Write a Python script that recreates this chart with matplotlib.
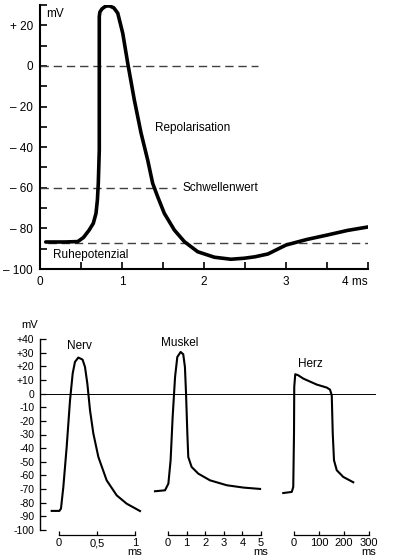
import numpy as np
import matplotlib
matplotlib.use("Agg")
import matplotlib.pyplot as plt
from matplotlib.ticker import FixedLocator, MultipleLocator

plt.rcParams["font.family"] = ["Liberation Sans", "DejaVu Sans"]

# %%
# Data
# ---------------------------

# upper panel: nerve action potential (ms, mV)
AP_T = [0.07, 0.30, 0.46, 0.53, 0.60, 0.65, 0.683, 0.70, 0.711, 0.723,
        0.723, 0.73, 0.756, 0.80, 0.845, 0.90, 0.948, 1.009, 1.07, 1.15,
        1.232, 1.313, 1.374, 1.435, 1.516, 1.638, 1.76, 1.923, 2.126, 2.329,
        2.49, 2.62, 2.78, 3.00, 3.25, 3.50, 3.75, 4.00]
AP_V = [-86.7, -86.7, -86.5, -84.5, -80.8, -77.5, -72.6, -66.0, -57.8, -41.4,
        24.3, 26.5, 28.1, 29.4, 29.6, 28.6, 26.0, 16.1, 1.3, -16.7,
        -33.0, -46.3, -57.8, -64.4, -72.6, -80.8, -86.5, -91.5, -94.2, -95.2,
        -94.7, -94.0, -92.6, -88.2, -85.5, -83.3, -81.0, -79.3]

ZERO_END = 2.66        # ms, end of the dashed 0 mV line
THRESH_V = -60.0
THRESH_END = 1.66
REST_V = -87.2

# lower panel: three action potentials, each on its own time scale
NERV_T = [-0.096, 0.005, 0.026, 0.057, 0.101, 0.145, 0.18, 0.21, 0.254, 0.31,
          0.342, 0.373, 0.408, 0.452, 0.518, 0.627, 0.759, 0.89, 1.066]
NERV_V = [-86.0, -86.0, -84.3, -68.5, -39.1, -4.9, 14.7, 23.2, 26.4, 24.9,
          19.5, 7.3, -12.2, -29.3, -46.5, -63.6, -74.6, -80.7, -86.1]

MUSKEL_T = [-0.70, -0.16, 0.02, 0.14, 0.25, 0.38, 0.50, 0.68, 0.82, 0.91,
            0.97, 1.04, 1.09, 1.27, 1.63, 2.26, 3.16, 4.05, 4.95]
MUSKEL_V = [-71.6, -70.9, -66.0, -48.9, -17.1, 12.2, 26.8, 30.5, 28.8, 19.5,
            0.0, -29.3, -46.5, -53.8, -58.7, -63.6, -67.2, -68.9, -69.9]

HERZ_T = [-43, -9, -3, 0, 1, 5, 17, 37, 91, 131, 144, 151, 155, 160, 171,
          197, 237]
HERZ_V = [-72.9, -72.1, -68.5, -29.3, 4.9, 14.2, 13.4, 11.0, 6.6, 4.4, 2.9,
          -1.2, -29.3, -48.9, -56.2, -61.1, -65.0]

W, H = 396, 560


def box(x0, y0, x1, y1):
    """Pixel box (top-left origin) -> figure fraction rect."""
    return [x0 / W, 1 - y1 / H, (x1 - x0) / W, (y1 - y0) / H]


fig = plt.figure(figsize=(W / 100, H / 100), dpi=100)

# %%
# Upper panel
# -----------

ax = fig.add_axes(box(40, 5, 368, 269))
ax.set_xlim(0, 4)
ax.set_ylim(-100, 30)
for s in ("top", "right"):
    ax.spines[s].set_visible(False)
for s in ("left", "bottom"):
    ax.spines[s].set_linewidth(1.5)

dash = dict(color="0.25", lw=1.0, dashes=(6, 3.5))
ax.plot([0, ZERO_END], [0, 0], **dash)
ax.plot([0, THRESH_END], [THRESH_V, THRESH_V], **dash)
ax.plot([0.1, 4.0], [REST_V, REST_V], **dash)
ax.plot(AP_T, AP_V, color="k", lw=2.6, solid_joinstyle="round",
        solid_capstyle="round")

ax.yaxis.set_major_locator(FixedLocator([-100, -80, -60, -40, -20, 0, 20]))
ax.yaxis.set_minor_locator(MultipleLocator(10))
ax.set_yticklabels(["\u2013 100", "\u2013 80", "\u2013 60", "\u2013 40",
                    "\u2013 20", "0", "+ 20"])
ax.xaxis.set_major_locator(FixedLocator([0, 1, 2, 3, 4]))
ax.xaxis.set_minor_locator(MultipleLocator(0.5))
ax.set_xticklabels(["0", "1", "2", "3", "4 ms"])
ax.get_xticklabels()[-1].set_horizontalalignment("right")
ax.tick_params(which="both", direction="in", length=5, width=1.2,
               labelsize=8.5, pad=5)

tkw = dict(fontsize=8.5, va="center", ha="left")
ax.text(0.07, 25.5, "mV", **tkw)
ax.text(1.40, -30.5, "Repolarisation", **tkw)
ax.text(1.74, -60.0, "Schwellenwert", **tkw)
ax.text(0.16, -93.0, "Ruhepotenzial", **tkw)

# %%
# Lower panel
# -----------

main = fig.add_axes(box(40, 339, 380, 530))
main.set_ylim(-100, 40)
main.set_xlim(0, 1)
for s in ("top", "right", "bottom"):
    main.spines[s].set_visible(False)
main.spines["left"].set_linewidth(1.0)
main.set_xticks([])
main.set_yticks(range(-100, 41, 10))
main.set_yticklabels([f"{v:+d}" if v > 0 else f"{v:d}"
                      for v in range(-100, 41, 10)])
main.tick_params(axis="y", direction="in", length=4, width=0.9,
                 labelsize=7.5, pad=4)
main.axhline(0, xmin=5 / 340, xmax=335 / 340, color="k", lw=0.7)
main.text(-0.03, 1.075, "mV", transform=main.transAxes, fontsize=8,
          ha="center", va="center")

# (pixel span, xlim, ticks, tick labels, bar bounds, data, label, label pos)
panels = [
    ((50, 142), ((50 - 59) / 76, (142 - 59) / 76), [0, 0.5, 1],
     ["0", "0,5", "1\nms"], (0, 1), NERV_T, NERV_V, "Nerv", (0.27, 35)),
    ((150, 265), ((150 - 168) / 18.6, (265 - 168) / 18.6), [0, 1, 2, 3, 4, 5],
     ["0", "1", "2", "3", "4", "5\nms"], (0, 5), MUSKEL_T, MUSKEL_V,
     "Muskel", (0.65, 37)),
    ((280, 375), ((280 - 294) / 0.25, (375 - 294) / 0.25), [0, 100, 200, 300],
     ["0", "100", "200", "300\nms"], (0, 300), HERZ_T, HERZ_V, "Herz",
     (65, 22)),
]

for (x0, x1), xlim, ticks, labels, bounds, t, v, name, pos in panels:
    sub = fig.add_axes(box(x0, 339, x1, 530))
    sub.patch.set_visible(False)
    sub.set_xlim(*xlim)
    sub.set_ylim(-100, 40)
    for s in ("top", "right", "left"):
        sub.spines[s].set_visible(False)
    sub.spines["bottom"].set_position(("outward", 3.8))
    sub.spines["bottom"].set_bounds(*bounds)
    sub.spines["bottom"].set_linewidth(0.9)
    sub.set_yticks([])
    sub.set_xticks(ticks)
    sub.set_xticklabels(labels, linespacing=0.85)
    sub.tick_params(axis="x", direction="in", length=3, width=0.9,
                    labelsize=8, pad=2)
    sub.plot(t, v, color="k", lw=1.5, solid_joinstyle="round")
    sub.text(pos[0], pos[1], name, fontsize=8.5, ha="center", va="center")

fig.savefig("out.png", dpi=100)
